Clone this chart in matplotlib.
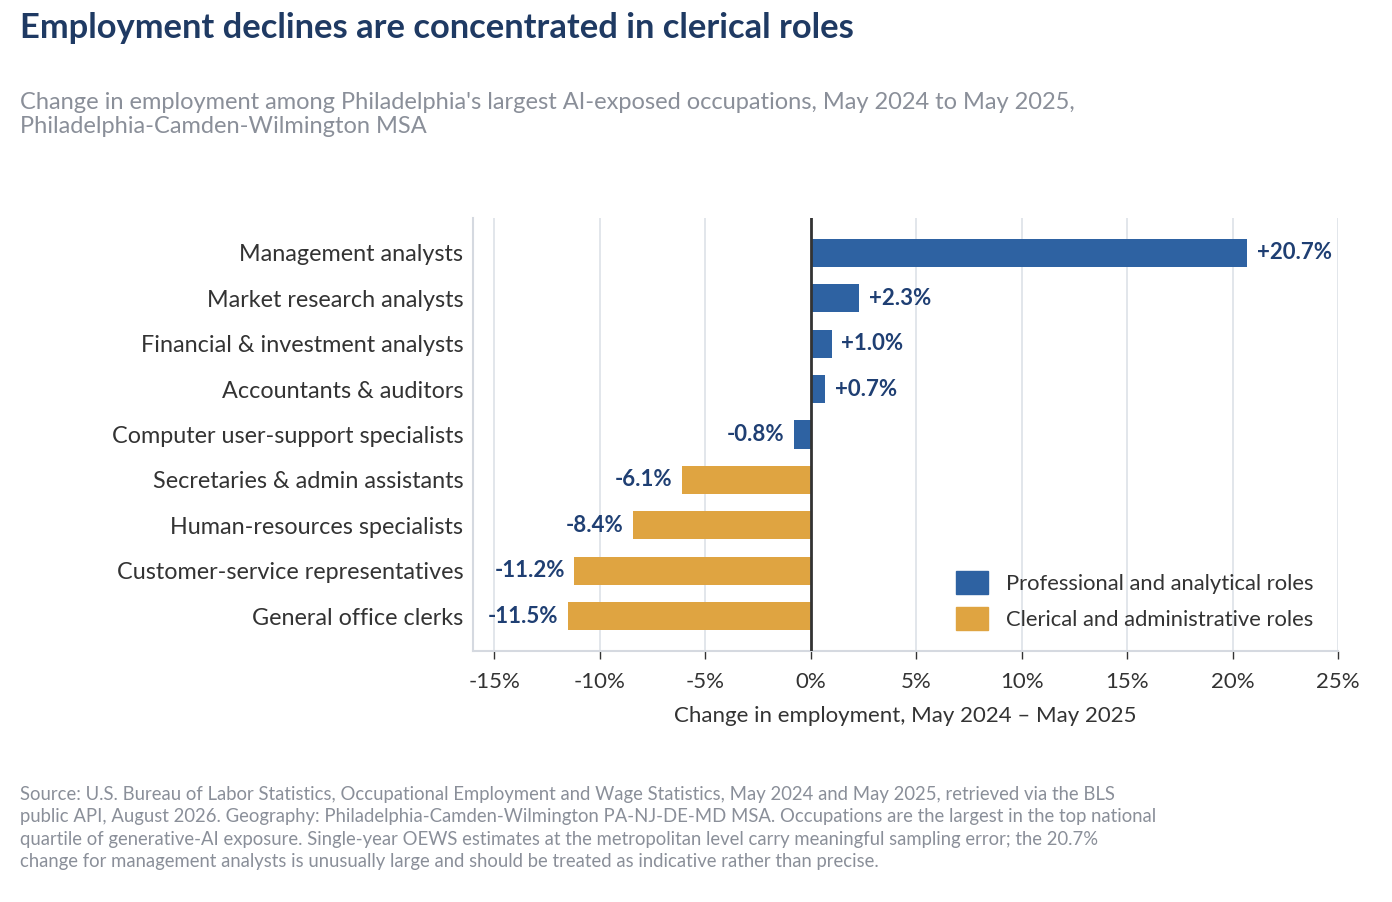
import matplotlib.pyplot as plt
from matplotlib.patches import Patch

plt.rcParams['font.family'] = ['Lato', 'DejaVu Sans']

occupations = ["Management analysts", "Market research analysts", "Financial & investment analysts",
               "Accountants & auditors", "Computer user-support specialists", "Secretaries & admin assistants",
               "Human-resources specialists", "Customer-service representatives", "General office clerks"]
change = [20.7, 2.3, 1.0, 0.7, -0.8, -6.1, -8.4, -11.2, -11.5]
group = ["pro", "pro", "pro", "pro", "pro", "cler", "cler", "cler", "cler"]
ticks = [-15, -10, -5, 0, 5, 10, 15, 20, 25]

blue = "#2e62a2"
gold = "#dfa441"
navy = "#1f3f73"
gray = "#8a8f99"

fig = plt.figure(figsize=(13.92, 9.02), dpi=100)
ax = fig.add_axes([0.3398, 0.2783, 0.6214, 0.48])

colors = [blue if g == "pro" else gold for g in group]
ypos = list(range(len(occupations)))
ax.barh(ypos, change, height=0.62, color=colors, zorder=3)
ax.axvline(0, color="#333333", lw=2, zorder=4)

for y, v in zip(ypos, change):
    lab = f"{v:+.1f}%"
    if v >= 0:
        ax.text(v + 0.45, y, lab, va="center", ha="left", fontsize=16, fontweight="bold", color=navy)
    else:
        ax.text(v - 0.45, y, lab, va="center", ha="right", fontsize=16, fontweight="bold", color=navy)

ax.set_xlim(-16, 25)
ax.set_ylim(8.77, -0.77)
ax.set_xticks(ticks)
ax.set_xticklabels([f"{t}%" for t in ticks])
ax.set_yticks(ypos)
ax.set_yticklabels(occupations)
ax.grid(axis="x", color="#dde1e8", lw=1.2, zorder=0)
ax.tick_params(axis="y", length=0, pad=7, labelsize=16.8, labelcolor="#333333")
ax.tick_params(axis="x", length=6, width=1, color="#333333", pad=9, labelsize=16, labelcolor="#333333")
for s in ["top", "right"]:
    ax.spines[s].set_visible(False)
ax.spines["left"].set_color("#d5d9e0")
ax.spines["left"].set_linewidth(1.5)
ax.spines["bottom"].set_color("#d5d9e0")
ax.spines["bottom"].set_linewidth(1.5)
ax.set_xlabel("Change in employment, May 2024 \u2013 May 2025", fontsize=16, color="#333333", labelpad=10)

handles = [Patch(color=blue, label="Professional and analytical roles"),
           Patch(color=gold, label="Clerical and administrative roles")]
ax.legend(handles=handles, loc="lower right", bbox_to_anchor=(0.995, 0.002), frameon=False,
          fontsize=15.8, handlelength=1.45, handleheight=1.25, handletextpad=0.85,
          labelcolor="#333333", labelspacing=0.6)

fig.text(0.0144, 0.969, "Employment declines are concentrated in clerical roles", fontsize=24.8,
         fontweight="bold", color="#1f3a63", va="center")
fig.text(0.0144, 0.873, "Change in employment among Philadelphia's largest AI-exposed occupations, May 2024 to May 2025,\nPhiladelphia-Camden-Wilmington MSA",
         fontsize=17, color=gray, va="center", linespacing=1.15)
footer = ("Source: U.S. Bureau of Labor Statistics, Occupational Employment and Wage Statistics, May 2024 and May 2025, retrieved via the BLS\n"
          "public API, August 2026. Geography: Philadelphia-Camden-Wilmington PA-NJ-DE-MD MSA. Occupations are the largest in the top national\n"
          "quartile of generative-AI exposure. Single-year OEWS estimates at the metropolitan level carry meaningful sampling error; the 20.7%\n"
          "change for management analysts is unusually large and should be treated as indicative rather than precise.")
fig.text(0.0144, 0.082, footer, fontsize=13.35, color=gray, va="center", linespacing=1.38)

fig.savefig("out.png", dpi=100, facecolor="white")
